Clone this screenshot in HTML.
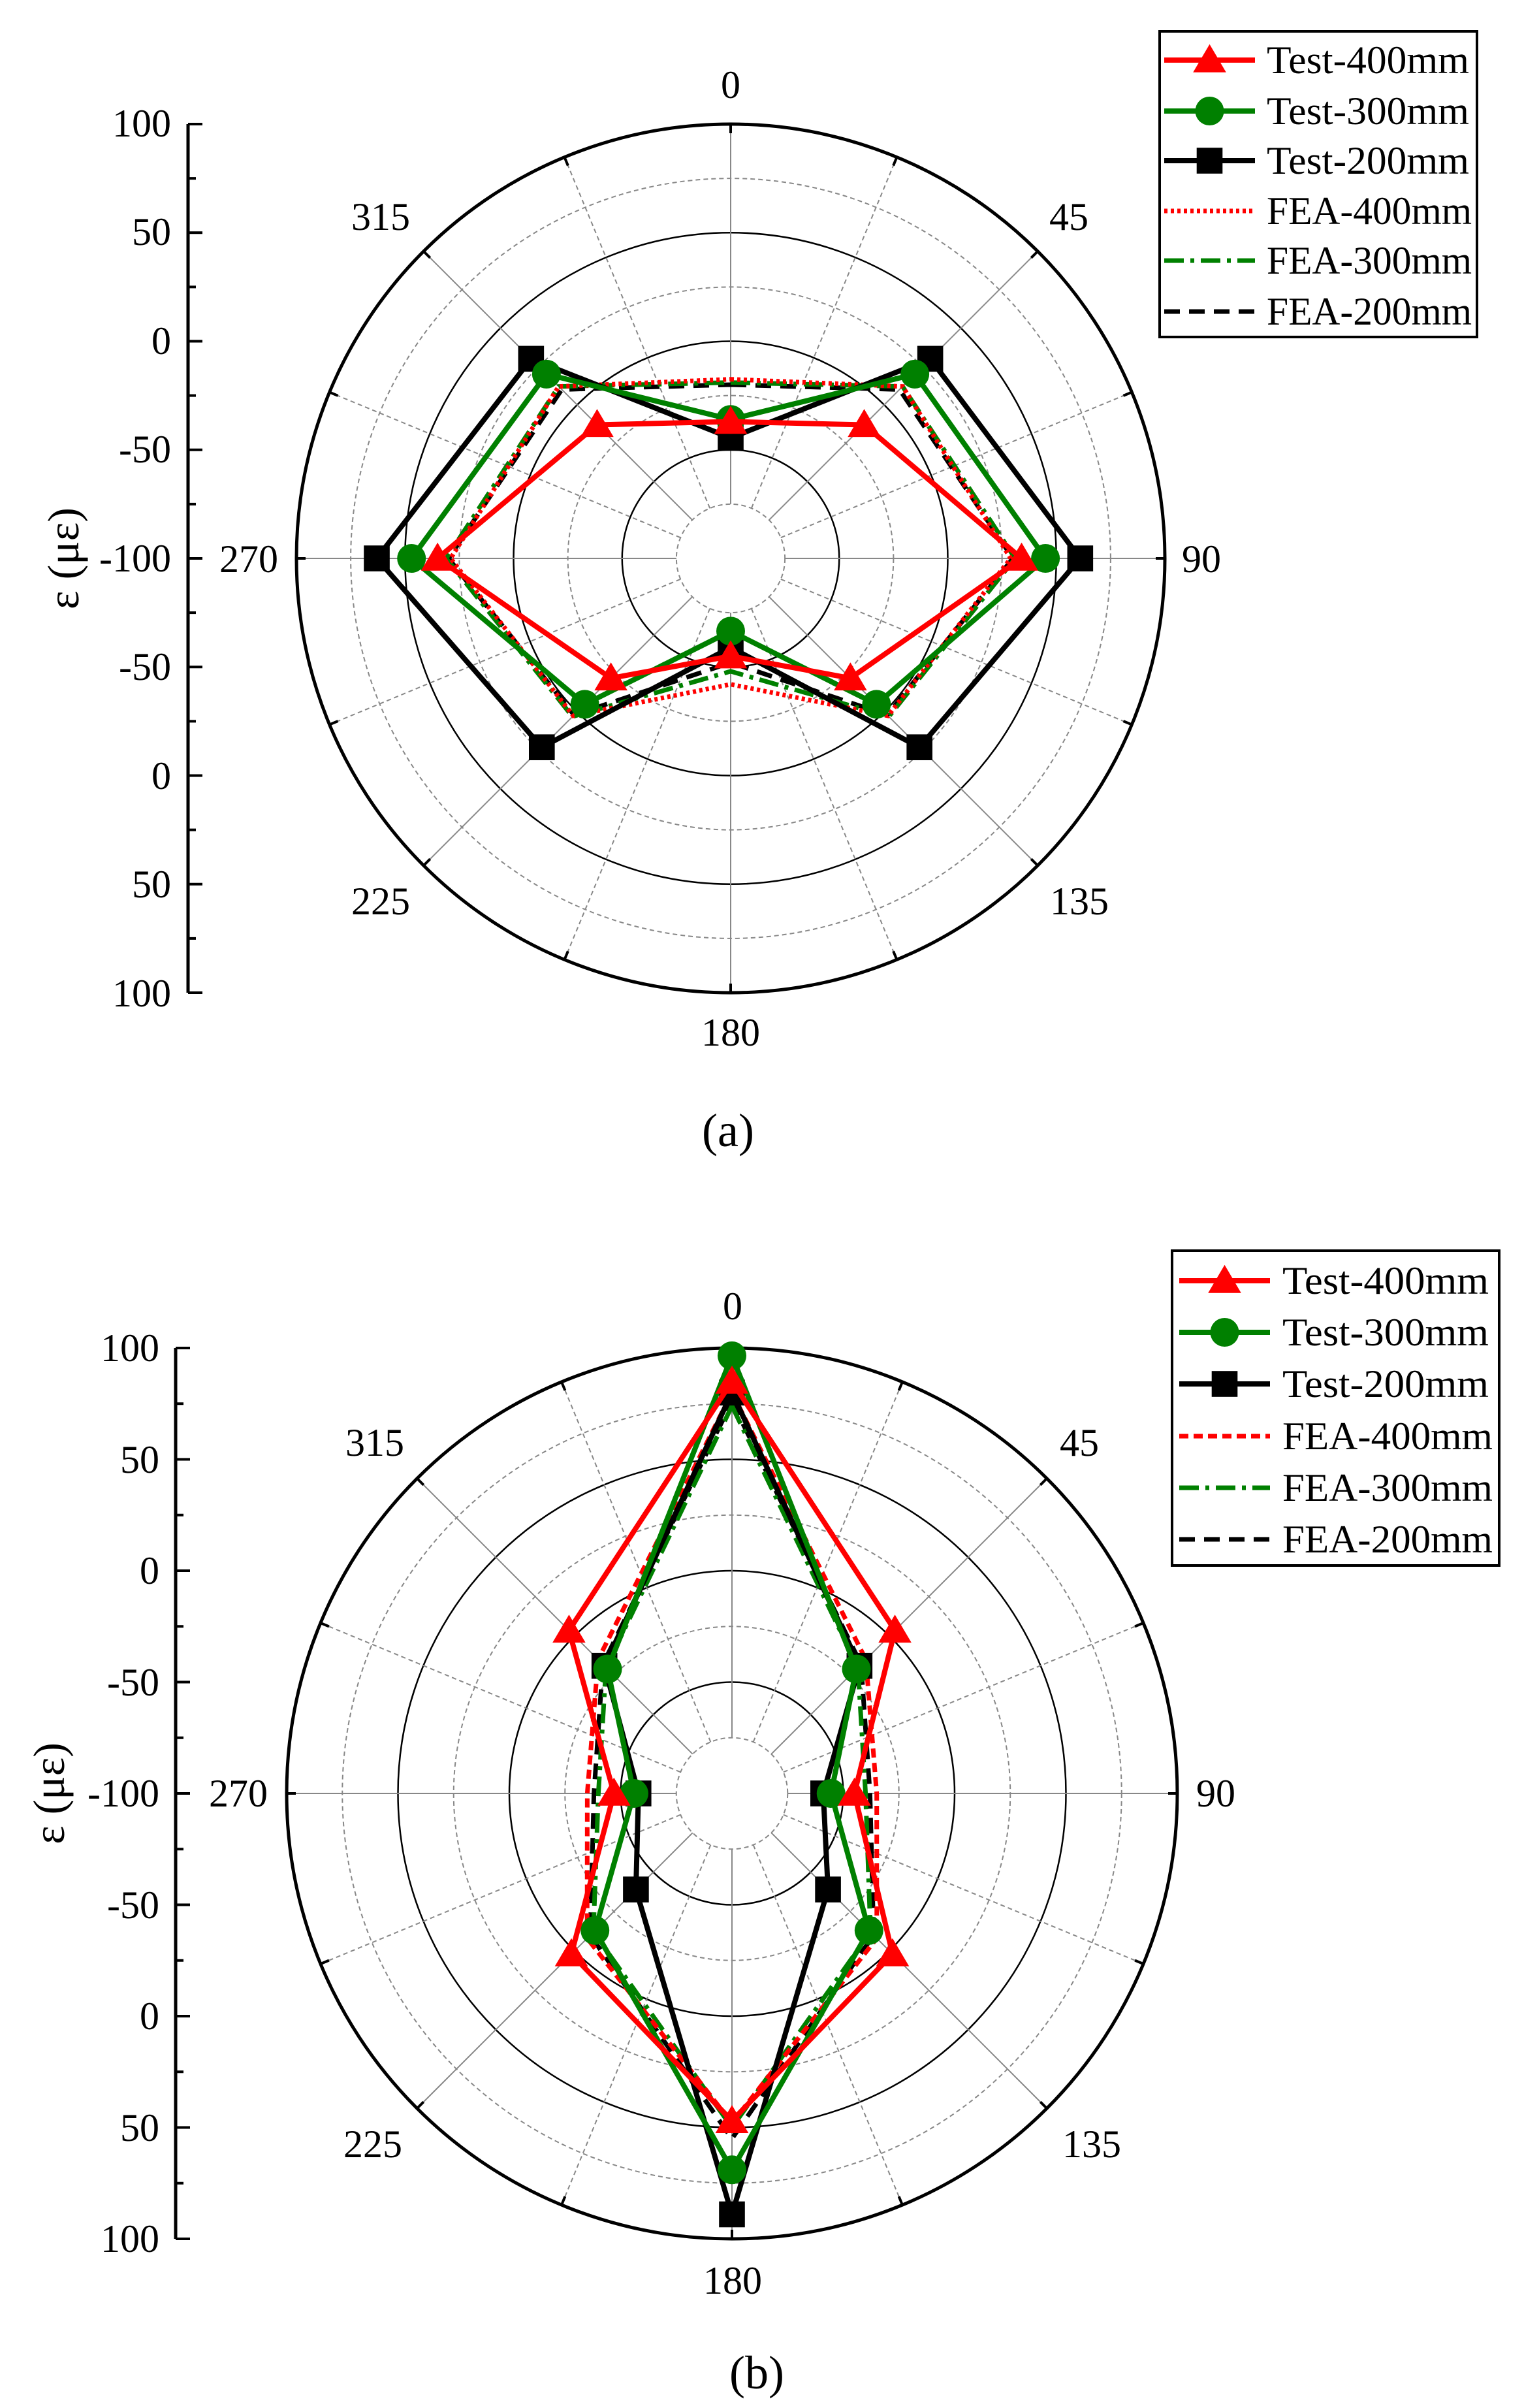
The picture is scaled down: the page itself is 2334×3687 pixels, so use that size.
<!DOCTYPE html>
<html><head><meta charset="utf-8"><style>
html,body{margin:0;padding:0;background:#fff;}
svg{display:block;}
text{font-family:"Liberation Serif",serif;fill:#000;}
</style></head><body>
<svg id="s" width="2334" height="3687" viewBox="0 0 2334 3687" xmlns="http://www.w3.org/2000/svg">
<rect width="2334" height="3687" fill="#fff"/>
<g id="ga"></g><g id="gb"></g>
<!-- chart a texts -->
<g font-size="60" text-anchor="middle" dominant-baseline="central">
<text x="1119" y="130">0</text><text x="1637" y="332">45</text><text x="1840" y="856">90</text><text x="1653" y="1380">135</text>
<text x="1119" y="1581">180</text><text x="583" y="1380">225</text><text x="381" y="856">270</text><text x="583" y="332">315</text>
</g>
<g font-size="60" text-anchor="end" dominant-baseline="central">
<text x="262" y="189">100</text><text x="262" y="355">50</text><text x="262" y="522">0</text><text x="262" y="688">-50</text><text x="262" y="855">-100</text>
<text x="262" y="1021">-50</text><text x="262" y="1188">0</text><text x="262" y="1354">50</text><text x="262" y="1521">100</text>
</g>
<text x="97" y="855" font-size="68" text-anchor="middle" dominant-baseline="central" transform="rotate(-90 97 855)">ε (με)</text>
<text x="1115" y="1731" font-size="72" text-anchor="middle" dominant-baseline="central">(a)</text>
<!-- chart b texts -->
<g font-size="60" text-anchor="middle" dominant-baseline="central">
<text x="1122" y="2000">0</text><text x="1653" y="2209">45</text><text x="1862" y="2746">90</text><text x="1672" y="3283">135</text>
<text x="1122" y="3492">180</text><text x="571" y="3283">225</text><text x="365" y="2746">270</text><text x="574" y="2209">315</text>
</g>
<g font-size="60" text-anchor="end" dominant-baseline="central">
<text x="244" y="2064">100</text><text x="244" y="2235">50</text><text x="244" y="2405">0</text><text x="244" y="2576">-50</text><text x="244" y="2746">-100</text>
<text x="244" y="2917">-50</text><text x="244" y="3087">0</text><text x="244" y="3258">50</text><text x="244" y="3428">100</text>
</g>
<text x="75" y="2746" font-size="68" text-anchor="middle" dominant-baseline="central" transform="rotate(-90 75 2746)">ε (με)</text>
<text x="1159" y="3633" font-size="72" text-anchor="middle" dominant-baseline="central">(b)</text>
<!-- legend texts -->
<g font-size="60" dominant-baseline="central">
<text x="1940" y="92" textLength="310" lengthAdjust="spacingAndGlyphs">Test-400mm</text><text x="1940" y="170" textLength="310" lengthAdjust="spacingAndGlyphs">Test-300mm</text><text x="1940" y="246" textLength="310" lengthAdjust="spacingAndGlyphs">Test-200mm</text>
<text x="1940" y="323" textLength="314" lengthAdjust="spacingAndGlyphs">FEA-400mm</text><text x="1940" y="399" textLength="314" lengthAdjust="spacingAndGlyphs">FEA-300mm</text><text x="1940" y="477" textLength="314" lengthAdjust="spacingAndGlyphs">FEA-200mm</text>
<text x="1964" y="1961" textLength="316" lengthAdjust="spacingAndGlyphs">Test-400mm</text><text x="1964" y="2040" textLength="316" lengthAdjust="spacingAndGlyphs">Test-300mm</text><text x="1964" y="2119" textLength="316" lengthAdjust="spacingAndGlyphs">Test-200mm</text>
<text x="1964" y="2199" textLength="322" lengthAdjust="spacingAndGlyphs">FEA-400mm</text><text x="1964" y="2278" textLength="322" lengthAdjust="spacingAndGlyphs">FEA-300mm</text><text x="1964" y="2357" textLength="322" lengthAdjust="spacingAndGlyphs">FEA-200mm</text>
</g>
<g id="leg"></g>
</svg>
<script>
var NS="http://www.w3.org/2000/svg";
function el(p,t,a){var e=document.createElementNS(NS,t);for(var k in a)e.setAttribute(k,a[k]);p.appendChild(e);return e;}
var RED="#ff0000",GRN="#008000",BLK="#000";
function marker(g,type,x,y,c){
 var s=22;
 if(type=="tri")el(g,"polygon",{points:(x)+","+(y-s*1.1)+" "+(x+s*1.15)+","+(y+s*0.85)+" "+(x-s*1.15)+","+(y+s*0.85),fill:c});
 else if(type=="cir")el(g,"circle",{cx:x,cy:y,r:s,fill:c});
 else if(type=="sq")el(g,"rect",{x:x-s*0.9,y:y-s*0.9,width:s*1.8,height:s*1.8,fill:c});
}
function chart(g,cx,cy,R,axX,series){
 for(var k=1;k<=7;k++){
  el(g,"circle",{cx:cx,cy:cy,r:R*k/8,fill:"none",stroke:k%2?"#888":"#000","stroke-width":k%2?2:2.5,"stroke-dasharray":k%2?"7 5":"none"});
 }
 for(var i=0;i<16;i++){
  var a=i*Math.PI/8,sx=Math.sin(a),cy2=-Math.cos(a);
  el(g,"line",{x1:cx+R/8*sx,y1:cy+R/8*cy2,x2:cx+R*sx,y2:cy+R*cy2,stroke:"#888","stroke-width":2,"stroke-dasharray":i%2?"7 5":"none"});
  el(g,"line",{x1:cx+(R-14)*sx,y1:cy+(R-14)*cy2,x2:cx+R*sx,y2:cy+R*cy2,stroke:"#000","stroke-width":4});
 }
 el(g,"circle",{cx:cx,cy:cy,r:R,fill:"none",stroke:"#000","stroke-width":5});
 el(g,"line",{x1:axX,y1:cy-R,x2:axX,y2:cy+R,stroke:"#000","stroke-width":5});
 for(var j=0;j<=16;j++){
  var y=cy-R+j*R/8;
  el(g,"line",{x1:axX,y1:y,x2:axX+(j%2?12:22),y2:y,stroke:"#000","stroke-width":4});
 }
 series.forEach(function(s){
  var pts=s.v.map(function(v,i){var r=(v+100)/200*R,a=i*Math.PI/4;return [cx+r*Math.sin(a),cy-r*Math.cos(a)];});
  var d=pts.map(function(p){return p[0].toFixed(1)+","+p[1].toFixed(1);}).join(" ");
  el(g,"polygon",{points:d,fill:"none",stroke:s.c,"stroke-width":s.m?8:7,"stroke-dasharray":s.d||"none","stroke-linejoin":"miter"});
  if(s.m)pts.forEach(function(p){marker(g,s.m,p[0],p[1],s.c);});
 });
}
var ga=document.getElementById("ga"),gb=document.getElementById("gb");
chart(ga,1119,855,665,288,[
 {c:BLK,d:"24 14",v:[-20,10,30,2,-52,2,30,10]},
 {c:GRN,d:"30 10 6 10",v:[-19,12,31,3,-48,3,31,12]},
 {c:RED,d:"5 5",v:[-17.5,12,29,2.5,-42,2.5,29,12]},
 {c:BLK,m:"sq",v:[-44.5,30,61,23,-59,23,63,30]},
 {c:GRN,m:"cir",v:[-36,20,45,-5,-66.5,-5,47,20]},
 {c:RED,m:"tri",v:[-37,-13,34,-22,-55,-22,35,-13]}
]);
chart(gb,1121,2746,682,269,[
 {c:BLK,d:"24 14",v:[76,-18,-38,-10,55,-10,-38,-18]},
 {c:GRN,d:"30 10 6 10",v:[74,-20,-40,-12,50,-12,-40,-20]},
 {c:RED,d:"14 8",v:[80,-15,-35,-8,48,-8,-35,-15]},
 {c:BLK,m:"sq",v:[80,-19,-59,-39,89,-39,-58,-19]},
 {c:GRN,m:"cir",v:[96.5,-21,-55.5,-13,69,-13,-56,-21]},
 {c:RED,m:"tri",v:[85,3.5,-45,2,47,2,-47,3.5]}
]);
var lg=document.getElementById("leg");
function legend(x0,y0,x1,y1,lx1,lx2,rows,fd){
 el(lg,"rect",{x:x0,y:y0,width:x1-x0,height:y1-y0,fill:"none",stroke:"#000","stroke-width":4});
 var st=[{c:RED,m:"tri"},{c:GRN,m:"cir"},{c:BLK,m:"sq"},{c:RED,d:fd},{c:GRN,d:"30 10 6 10"},{c:BLK,d:"24 14"}];
 st.forEach(function(s,i){
  var y=rows[i];
  el(lg,"line",{x1:lx1,y1:y,x2:lx2,y2:y,stroke:s.c,"stroke-width":s.m?8:7,"stroke-dasharray":s.d||"none"});
  if(s.m)marker(lg,s.m,(lx1+lx2)/2,y,s.c);
 });
}
legend(1776,48,2262,516,1783,1922,[92,170,246,323,399,477],"5 5");
legend(1795,1915,2296,2397,1806,1945,[1961,2040,2119,2199,2278,2357],"14 8");
</script>
</body></html>
